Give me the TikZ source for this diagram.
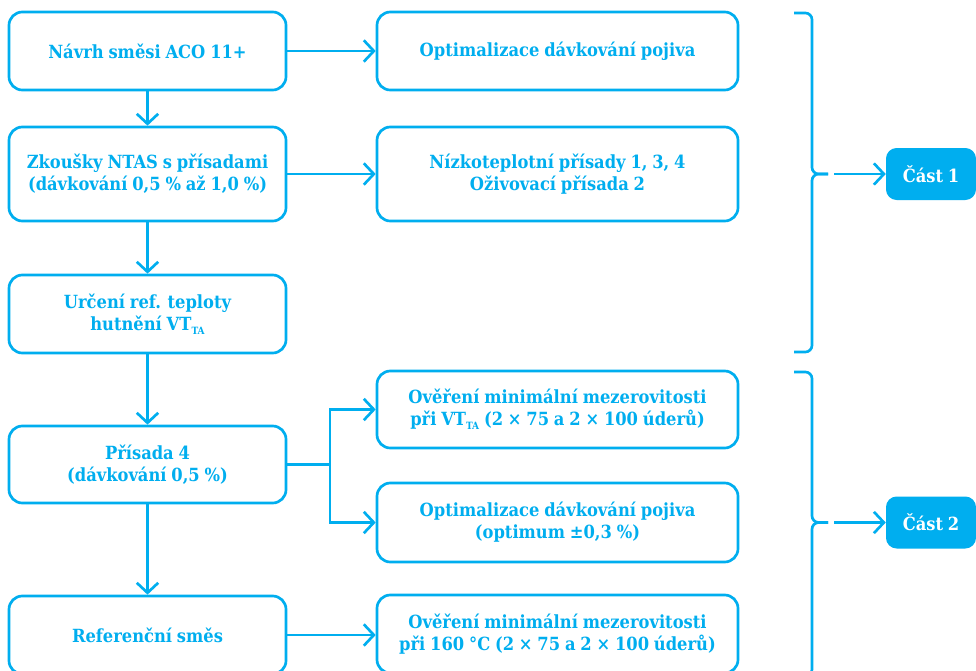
\documentclass[tikz,border=0pt]{standalone}
\usepackage{fontspec}
\setmainfont{DejaVu Serif Condensed}[WordSpace=0.85]
\usetikzlibrary{arrows.meta}
\definecolor{cy}{RGB}{0,174,239}
\newcommand{\subTA}{\raisebox{-3pt}{\fontsize{7.5}{7.5}\selectfont TA}}
\tikzset{
  box/.style={draw=cy, line width=2pt, rounded corners=10pt, align=center, text=cy,
    font=\bfseries\fontsize{13.6}{16.5}\selectfont, inner sep=0pt},
  lbox/.style={box, minimum width=207.75pt},
  rbox/.style={box, minimum width=270.75pt},
  part/.style={fill=cy, rounded corners=8pt, text=white, align=center,
    font=\bfseries\fontsize{13.6}{16.5}\selectfont, minimum width=67.5pt, minimum height=39pt, inner sep=0pt},
  conline/.style={draw=cy, line width=2pt},
  con/.style={conline, -{Straight Barb[length=7.5pt,width=16pt]}},
  bracel/.style={draw=cy, line width=2pt, rounded corners=5pt}
}
\begin{document}
\begin{tikzpicture}[x=0.75pt,y=-0.75pt]
\clip (0,0) rectangle (976,671);
\fill[white] (0,0) rectangle (976,671);
% left column
\node[lbox, minimum height=58.5pt] (a1) at (147.5,51) {Návrh směsi ACO 11+};
\node[lbox, minimum height=70.5pt] (a2) at (147.5,174) {Zkoušky NTAS s přísadami\\(dávkování 0,5 \% až 1,0 \%)};
\node[lbox, minimum height=58.5pt] (a3) at (147.5,314) {Určení ref. teploty\\hutnění VT\subTA};
\node[lbox, minimum height=57.75pt] (a4) at (147.5,464.5) {Přísada 4\\(dávkování 0,5 \%)};
\node[lbox, minimum height=58.5pt] (a5) at (147.5,635) {Referenční směs};
% right column
\node[rbox, minimum height=58.5pt] (r1) at (557.5,51) {Optimalizace dávkování pojiva};
\node[rbox, minimum height=70.5pt] (r2) at (557.5,174) {Nízkoteplotní přísady 1, 3, 4\\Oživovací přísada 2};
\node[rbox, minimum height=57.75pt] (r3) at (557.5,409.5) {Ověření minimální mezerovitosti\\při VT\subTA{} (2 × 75 a 2 × 100 úderů)};
\node[rbox, minimum height=59.25pt] (r4) at (557.5,522.5) {Optimalizace dávkování pojiva\\(optimum ±0,3 \%)};
\node[rbox, minimum height=58.5pt] (r5) at (557.5,634) {Ověření minimální mezerovitosti\\při 160 °C (2 × 75 a 2 × 100 úderů)};
% parts
\node[part] (p1) at (931,174) {Část 1};
\node[part] (p2) at (931,522.5) {Část 2};
% vertical connectors
\draw[con] (a1.south) -- (a2.north);
\draw[con] (a2.south) -- (a3.north);
\draw[con] (a3.south) -- (a4.north);
\draw[con] (a4.south) -- (a5.north);
% horizontal connectors
\draw[con] (a1.east) -- (r1.west);
\draw[con] (a2.east) -- (r2.west);
\draw[con] (a5.east) -- (a5.east -| r5.west);
\coordinate (br) at (330,464.5);
\draw[conline] (a4.east) -- (br);
\draw[con] (br) |- (r3.west);
\draw[con] (br) |- (r4.west);
% braces
\draw[bracel] (794,13) -| (812,174) -- (828,174);
\draw[bracel] (794,352) -| (812,174) -- (828,174);
\draw[bracel] (794,372) -| (812,522.5) -- (828,522.5);
\draw[bracel] (794,676) -| (812,522.5) -- (828,522.5);
\coordinate (c1) at (834,174);
\coordinate (c2) at (834,522.5);
\draw[con] (c1) -- (p1.west);
\draw[con] (c2) -- (p2.west);
\end{tikzpicture}
\end{document}
